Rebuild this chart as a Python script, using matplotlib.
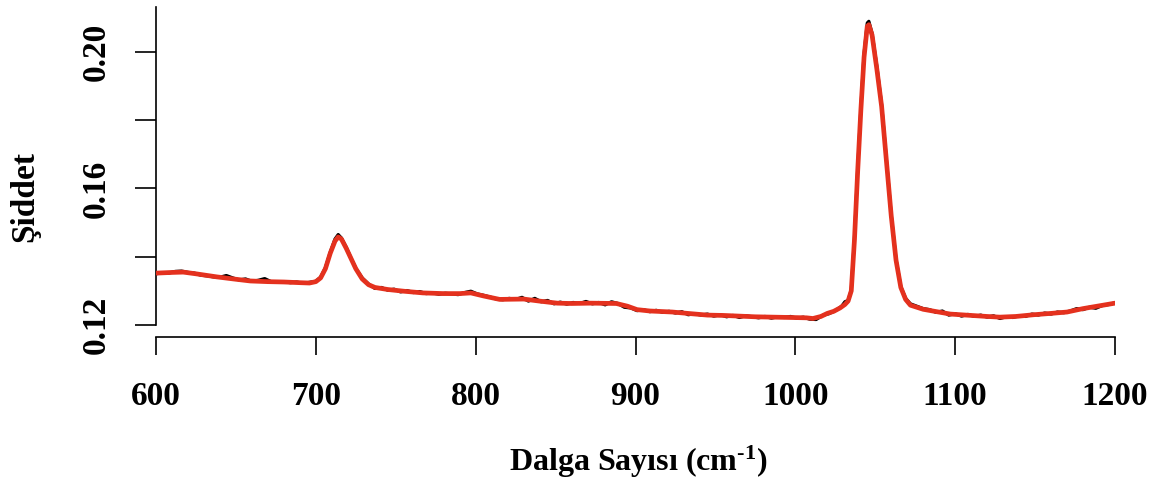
import matplotlib
matplotlib.use("Agg")
import matplotlib.pyplot as plt

plt.rcParams["font.family"] = ["Liberation Serif", "DejaVu Serif"]
plt.rcParams["font.weight"] = "bold"
plt.rcParams["mathtext.fontset"] = "custom"
plt.rcParams["mathtext.rm"] = "Liberation Serif:bold"
plt.rcParams["mathtext.bf"] = "Liberation Serif:bold"
plt.rcParams["mathtext.default"] = "rm"

# Raw spectrum (wavenumber, intensity)
raw_wavenumber = [
    600, 604, 608, 612, 616, 620, 624, 628, 632, 636, 640, 644, 648, 652, 656,
    660, 664, 668, 672, 676, 680, 684, 688, 692, 696, 700, 703, 706, 709, 712,
    714, 716, 719, 722, 725, 729, 733, 737, 741, 745, 749, 753, 757, 761, 765,
    769, 773, 777, 781, 785, 789, 793, 797, 801, 805, 809, 813, 817, 821, 825,
    829, 833, 837, 841, 845, 849, 853, 857, 861, 865, 869, 873, 877, 881, 885,
    889, 893, 897, 901, 905, 909, 913, 917, 921, 925, 929, 933, 937, 941, 945,
    949, 953, 957, 961, 965, 969, 973, 977, 981, 985, 989, 993, 997, 1001,
    1005, 1009, 1013, 1017, 1021, 1025, 1029, 1031, 1033, 1035, 1037, 1039,
    1041, 1043, 1045, 1046, 1048, 1051, 1054, 1057, 1060, 1063, 1066, 1069,
    1072, 1076, 1080, 1084, 1088, 1092, 1096, 1100, 1104, 1108, 1112, 1116,
    1120, 1124, 1128, 1132, 1136, 1140, 1144, 1148, 1152, 1156, 1160, 1164,
    1168, 1172, 1176, 1180, 1184, 1188, 1192, 1196, 1200,
]
raw_intensity = [
    0.1350, 0.1353, 0.1352, 0.1357, 0.1358, 0.1354, 0.1352, 0.1346, 0.1344,
    0.1341, 0.1340, 0.1345, 0.1338, 0.1332, 0.1335, 0.1328, 0.1331, 0.1336,
    0.1327, 0.1325, 0.1327, 0.1324, 0.1326, 0.1322, 0.1325, 0.1328, 0.1340,
    0.1368, 0.1413, 0.1452, 0.1465, 0.1455, 0.1428, 0.1396, 0.1366, 0.1338,
    0.1320, 0.1307, 0.1310, 0.1302, 0.1305, 0.1297, 0.1301, 0.1295, 0.1298,
    0.1292, 0.1294, 0.1290, 0.1293, 0.1291, 0.1289, 0.1295, 0.1299, 0.1291,
    0.1287, 0.1282, 0.1276, 0.1274, 0.1278, 0.1275, 0.1281, 0.1270, 0.1278,
    0.1268, 0.1272, 0.1262, 0.1267, 0.1261, 0.1266, 0.1263, 0.1269, 0.1262,
    0.1266, 0.1259, 0.1268, 0.1263, 0.1252, 0.1250, 0.1242, 0.1245, 0.1239,
    0.1243, 0.1237, 0.1240, 0.1235, 0.1239, 0.1230, 0.1233, 0.1229, 0.1232,
    0.1226, 0.1230, 0.1224, 0.1228, 0.1222, 0.1227, 0.1224, 0.1221, 0.1225,
    0.1220, 0.1224, 0.1222, 0.1225, 0.1220, 0.1223, 0.1217, 0.1216, 0.1228,
    0.1233, 0.1242, 0.1255, 0.1268, 0.1272, 0.1302, 0.1455, 0.1655, 0.1835,
    0.1995, 0.2085, 0.2090, 0.2055, 0.1958, 0.1845, 0.1685, 0.1522, 0.1392,
    0.1312, 0.1278, 0.1262, 0.1255, 0.1248, 0.1245, 0.1237, 0.1241, 0.1229,
    0.1233, 0.1226, 0.1231, 0.1225, 0.1229, 0.1223, 0.1227, 0.1219, 0.1224,
    0.1222, 0.1227, 0.1225, 0.1232, 0.1229, 0.1235, 0.1232, 0.1238, 0.1236,
    0.1241, 0.1248, 0.1245, 0.1252, 0.1249, 0.1257, 0.1260, 0.1265,
]

# Smoothed spectrum
fit_wavenumber = [
    600, 610, 617, 625, 638, 650, 659, 670, 680, 690, 696, 700, 703, 706, 709,
    712, 714, 716, 719, 722, 725, 729, 733, 737, 745, 755, 767, 780, 790, 797,
    805, 815, 830, 840, 851, 860, 872, 888, 895, 901, 909, 923, 935, 945, 955,
    965, 975, 986, 997, 1007, 1011, 1016, 1020, 1024, 1028, 1031, 1033, 1035,
    1037, 1039, 1041, 1043, 1045, 1046, 1048, 1051, 1054, 1057, 1060, 1063,
    1066, 1069, 1072, 1076, 1080, 1086, 1097, 1110, 1120, 1128, 1138, 1149,
    1160, 1170, 1180, 1190, 1200,
]
fit_intensity = [
    0.1352, 0.1354, 0.1355, 0.1350, 0.1341, 0.1334, 0.1329, 0.1327, 0.1326,
    0.1324, 0.1323, 0.1327, 0.1338, 0.1365, 0.1410, 0.1446, 0.1458, 0.1452,
    0.1425, 0.1395, 0.1365, 0.1335, 0.1318, 0.1310, 0.1304, 0.1299, 0.1294,
    0.1292, 0.1292, 0.1294, 0.1285, 0.1275, 0.1276, 0.1270, 0.1264, 0.1263,
    0.1264, 0.1263, 0.1255, 0.1245, 0.1241, 0.1238, 0.1233, 0.1229, 0.1228,
    0.1226, 0.1224, 0.1223, 0.1222, 0.1221, 0.1219, 0.1225, 0.1234, 0.1240,
    0.1250, 0.1260, 0.1270, 0.1300, 0.1450, 0.1650, 0.1830, 0.1985, 0.2075,
    0.2080, 0.2050, 0.1950, 0.1840, 0.1680, 0.1520, 0.1390, 0.1310, 0.1275,
    0.1258, 0.1252, 0.1246, 0.1241, 0.1232, 0.1228, 0.1225, 0.1223, 0.1225,
    0.1230, 0.1234, 0.1238, 0.1248, 0.1256, 0.1264,
]

x_ticks = [600, 700, 800, 900, 1000, 1100, 1200]
y_ticks = [0.12, 0.14, 0.16, 0.18, 0.20]
y_tick_labels = ["0.12", "", "0.16", "", "0.20"]

fig = plt.figure(figsize=(11.66, 4.84), dpi=100)
ax = fig.add_axes([156 / 1166, 1 - 337 / 484, 959 / 1166, 330 / 484])

ax.plot(raw_wavenumber, raw_intensity, color="black", lw=2.3,
        solid_joinstyle="round", zorder=2)
ax.plot(fit_wavenumber, fit_intensity, color="#E4311E", lw=3.4,
        solid_joinstyle="round", solid_capstyle="round", zorder=3)

ax.set_xlim(600, 1200)
ax.set_ylim(0.11648, 0.21319)

for side in ("top", "right"):
    ax.spines[side].set_visible(False)
ax.spines["left"].set_bounds(0.12, 0.21319)
ax.spines["bottom"].set_bounds(600, 1200)
for side in ("left", "bottom"):
    ax.spines[side].set_linewidth(1.2)

ax.set_xticks(x_ticks)
ax.set_xticklabels([str(v) for v in x_ticks])
ax.set_yticks(y_ticks)
ax.set_yticklabels(y_tick_labels, rotation=90, va="center")

ax.tick_params(axis="x", length=13, width=1.2, pad=19, labelsize=24)
ax.tick_params(axis="y", length=15, width=1.2, pad=17, labelsize=24)
for lab in ax.get_xticklabels() + ax.get_yticklabels():
    lab.set_fontweight("bold")

fig.text(638 / 1166, 1 - 462 / 484, r"Dalga Sayısı (cm$^{\text{-1}}$)",
         ha="center", va="center", fontsize=23, fontweight="bold")
fig.text(25 / 1166, 1 - 197 / 484, "Şiddet", rotation=90,
         ha="center", va="center", fontsize=24, fontweight="bold")

fig.savefig("out.png", dpi=100, facecolor="white")
